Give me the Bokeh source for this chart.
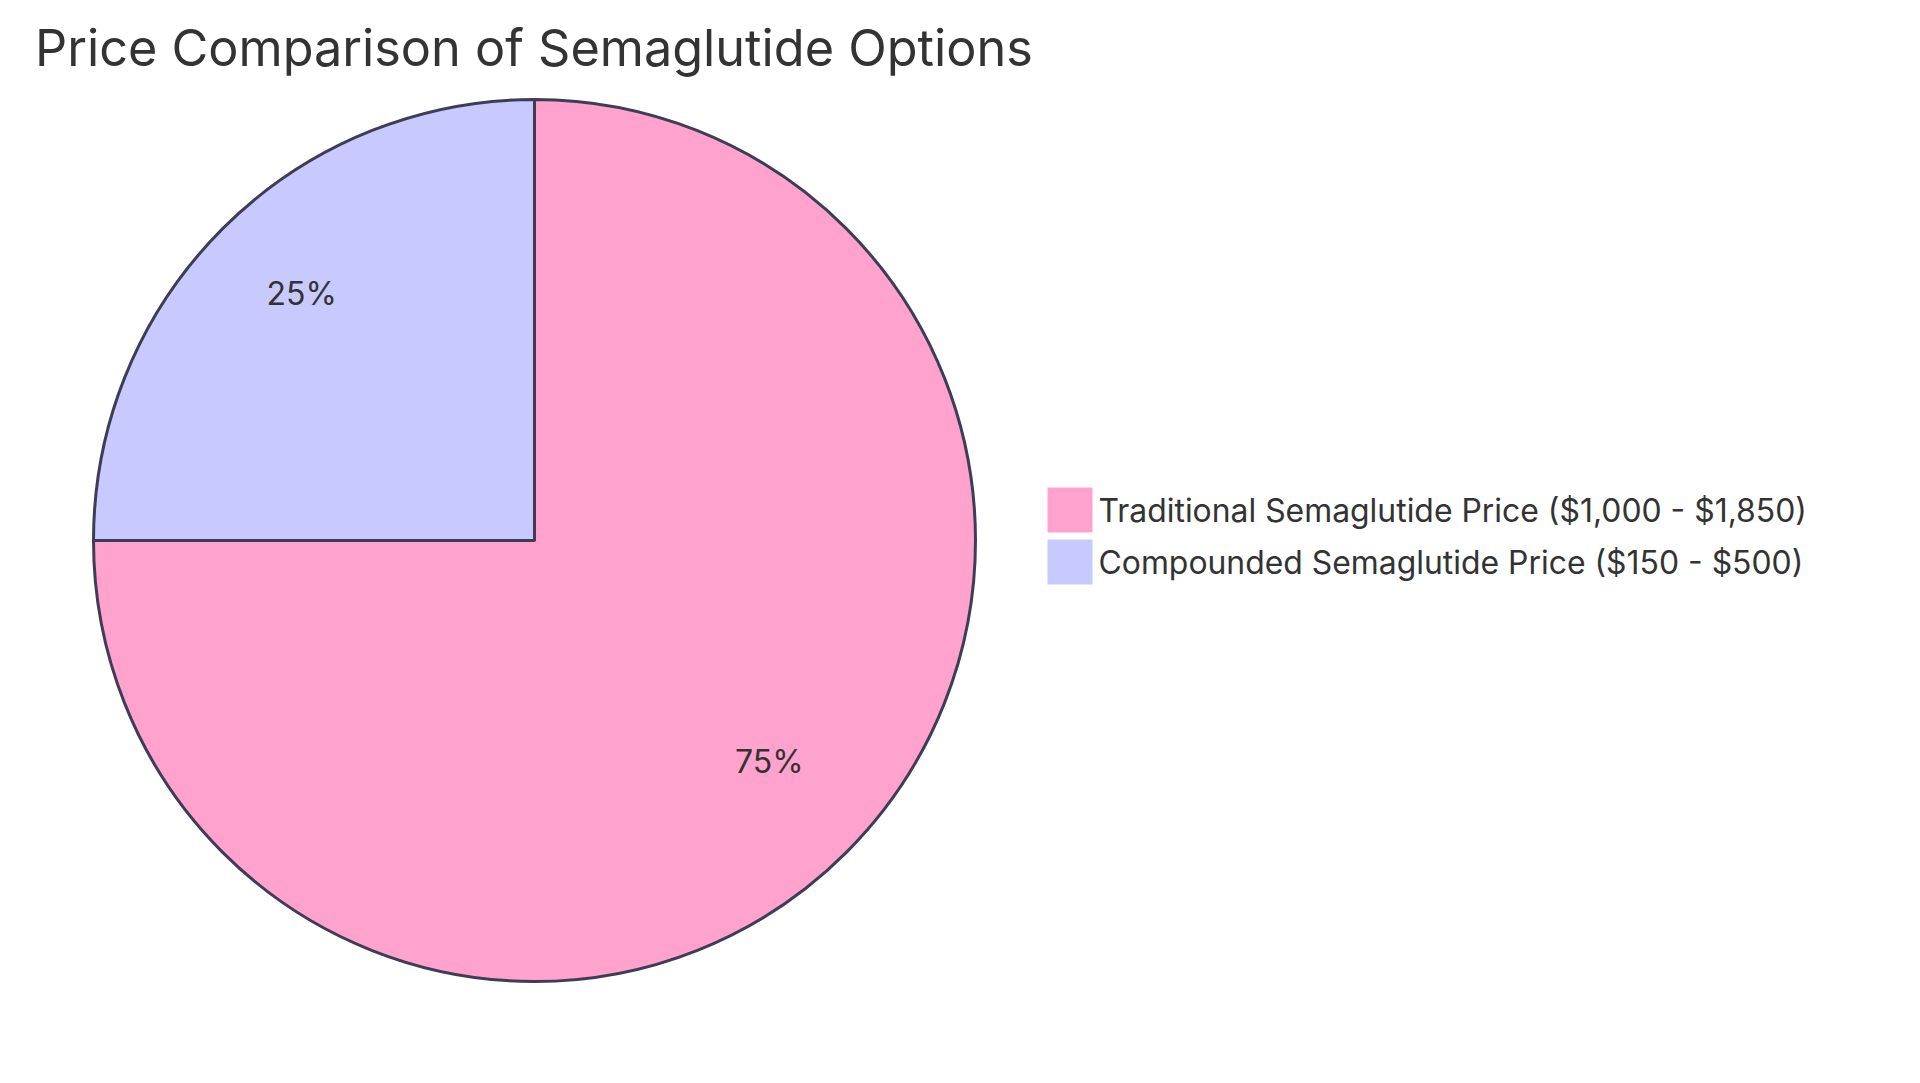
import math
from bokeh.plotting import figure
from bokeh.models import Range1d, ColumnDataSource
from bokeh.core.properties import value
from bokeh.embed import file_html
from bokeh.resources import INLINE

# ---- data ----
title_text = "Price Comparison of Semaglutide Options"
categories = ["Traditional Semaglutide Price ($1,000 - $1,850)",
              "Compounded Semaglutide Price ($150 - $500)"]
values = [75, 25]
colors = ["#FFA3CE", "#C7C9FF"]

W, H = 1904, 1067
FONT = "Inter"
TEXT_COLOR = "#333333"
STROKE = "#3F3D56"

p = figure(width=W, height=H, output_backend="svg", toolbar_location=None,
           x_range=Range1d(0, W), y_range=Range1d(0, H), min_border=0,
           match_aspect=False)
p.axis.visible = False
p.grid.visible = False
p.outline_line_color = None
p.background_fill_color = "white"
p.border_fill_color = "white"

def dy(page_y):
    return H - page_y

def dx(page_x):
    return page_x

cx, cy, R = dx(534), dy(540), 441

total = sum(values)
starts, ends, mids = [], [], []
cum = 0
for v in values:
    a0 = math.pi / 2 - 2 * math.pi * cum / total
    cum += v
    a1 = math.pi / 2 - 2 * math.pi * cum / total
    starts.append(a0)
    ends.append(a1)
    mids.append((a0 + a1) / 2)

src = ColumnDataSource(dict(start=starts, end=ends, color=colors,
                            x=[cx] * len(values), y=[cy] * len(values)))
p.wedge(x="x", y="y", radius=R, start_angle="start", end_angle="end",
        direction="clock", fill_color="color", line_color=STROKE,
        line_width=3, source=src)

pct = [f"{round(100 * v / total)}%" for v in values]
lr = 0.75 * R
cap_half = 12
p.text(x=[cx + lr * math.cos(m) + 1 for m in mids],
       y=[cy + lr * math.sin(m) + cap_half + 1 for m in mids],
       text=pct, text_align="center", text_baseline="middle",
       text_font=value(FONT), text_font_size="32px", text_color=TEXT_COLOR)

# title
p.text(x=[dx(34.5)], y=[dy(46.5)], text=[title_text], text_align="left",
       text_baseline="middle", text_font=value(FONT),
       text_font_size="50.4px", text_color=TEXT_COLOR)

# legend
box = 45
gap = 52
lx = dx(1047) + box / 2
ly0 = dy(509.5)
lys = [ly0 - i * gap for i in range(len(categories))]
p.rect(x=[lx] * len(categories), y=lys, width=box, height=box,
       fill_color=colors, line_color=None)
p.text(x=[dx(1098)] * len(categories), y=lys, text=categories,
       text_align="left", text_baseline="middle", text_font=value(FONT),
       text_font_size="31.9px", text_color=TEXT_COLOR)

open("out.html", "w").write(file_html(p, INLINE))
